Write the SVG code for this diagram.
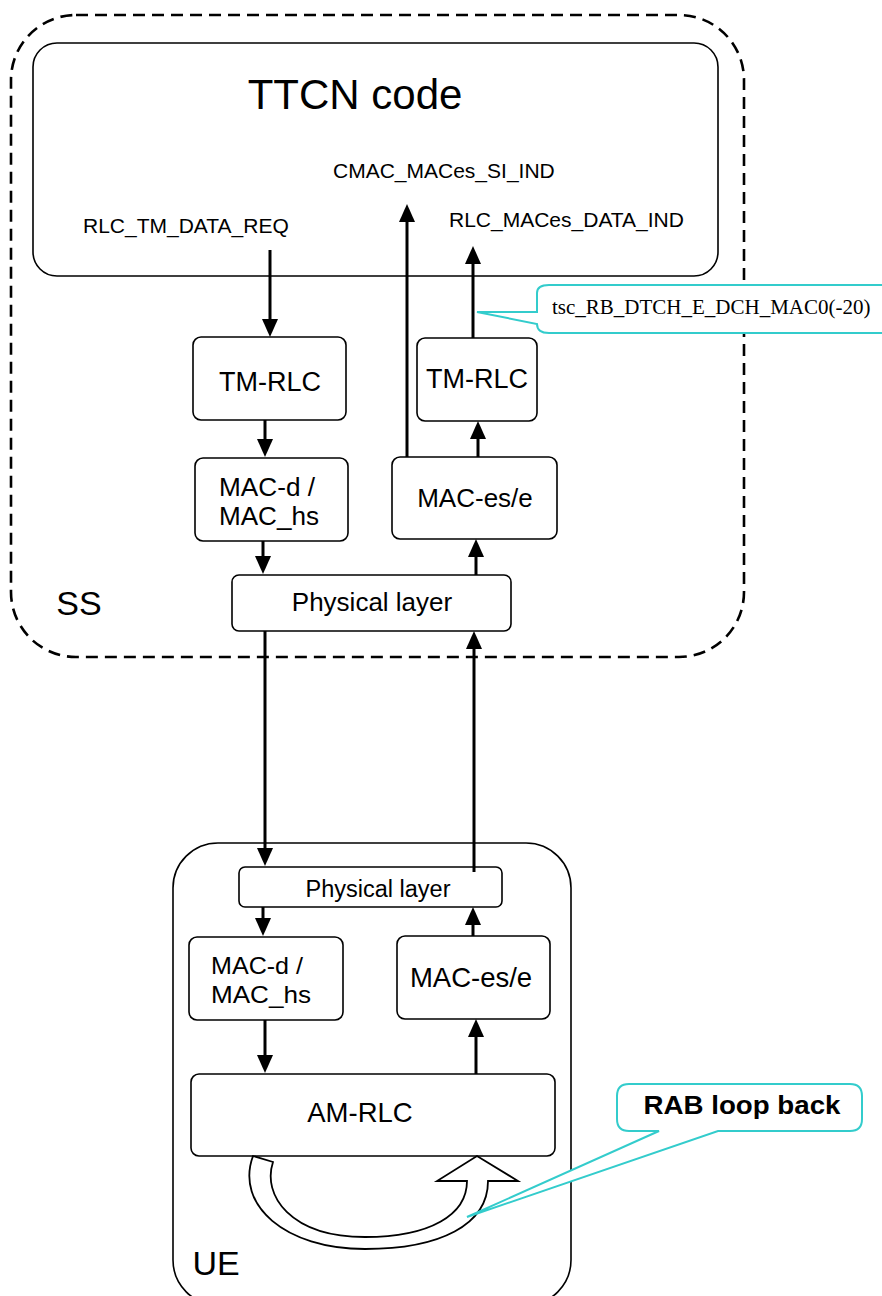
<svg xmlns="http://www.w3.org/2000/svg" width="882" height="1296" viewBox="0 0 882 1296">
<style>
.box{fill:#fff;stroke:#000;stroke-width:1.6}
.t{font-family:"Liberation Sans",Arial,sans-serif;fill:#000;text-anchor:middle}
.lbl{font-family:"Liberation Sans",Arial,sans-serif;fill:#000;font-size:21px}
.c{fill:none;stroke:#000;stroke-width:3}
.call{fill:#fff;stroke:#33CCCC;stroke-width:2}
</style>
<defs>
<marker id="ah" markerWidth="18" markerHeight="16" refX="0" refY="8" orient="auto" markerUnits="userSpaceOnUse">
<path d="M0,0 L18,8 L0,16 Z" fill="#000"/>
</marker>
</defs>
<g id="ss-frame">
<rect x="11" y="15" width="733" height="642" rx="65" fill="none" stroke="#000" stroke-width="2.6" stroke-dasharray="12,7"/>
<text class="t" x="79" y="615" font-size="34">SS</text>
</g>
<g id="ttcn">
<rect class="box" x="33" y="43" width="685" height="233" rx="24"/>
<text class="t" x="355" y="109" font-size="42">TTCN code</text>
<text class="lbl" x="333" y="178">CMAC_MACes_SI_IND</text>
<text class="lbl" x="83" y="233">RLC_TM_DATA_REQ</text>
<text class="lbl" x="449" y="227">RLC_MACes_DATA_IND</text>
</g>
<g id="ue-frame">
<rect class="box" x="173" y="843" width="398" height="462" rx="45"/>
<text class="t" x="216" y="1275" font-size="34">UE</text>
</g>
<g id="ss-tmrlc-tx">
<rect class="box" x="193" y="337" width="153" height="83" rx="8"/>
<text class="t" x="270" y="391" font-size="27">TM-RLC</text>
</g>
<g id="ss-tmrlc-rx">
<rect class="box" x="417" y="338" width="120" height="83" rx="8"/>
<text class="t" x="477" y="388" font-size="27">TM-RLC</text>
</g>
<g id="ss-macd">
<rect class="box" x="195" y="458" width="153" height="83" rx="8"/>
<text class="t" x="267" y="496" font-size="25" textLength="96" lengthAdjust="spacingAndGlyphs">MAC-d /</text>
<text class="t" x="269" y="525" font-size="25" textLength="100" lengthAdjust="spacingAndGlyphs">MAC_hs</text>
</g>
<g id="ss-maces">
<rect class="box" x="392" y="457" width="165" height="82" rx="8"/>
<text class="t" x="475" y="507" font-size="26">MAC-es/e</text>
</g>
<g id="ss-phy">
<rect class="box" x="232" y="575" width="279" height="56" rx="7"/>
<text class="t" x="372" y="611" font-size="26">Physical layer</text>
</g>
<g id="ue-phy">
<rect class="box" x="239" y="867" width="263" height="40" rx="6"/>
<text class="t" x="378" y="897" font-size="23.5">Physical layer</text>
</g>
<g id="ue-macd">
<rect class="box" x="189" y="937" width="154" height="83" rx="8"/>
<text class="t" x="257" y="974" font-size="24" textLength="92" lengthAdjust="spacingAndGlyphs">MAC-d /</text>
<text class="t" x="261" y="1003" font-size="24" textLength="100" lengthAdjust="spacingAndGlyphs">MAC_hs</text>
</g>
<g id="ue-maces">
<rect class="box" x="397" y="936" width="153" height="83" rx="8"/>
<text class="t" x="471" y="987" font-size="27.5">MAC-es/e</text>
</g>
<g id="ue-amrlc">
<rect class="box" x="191" y="1074" width="364" height="82" rx="8"/>
<text class="t" x="360" y="1122" font-size="27.5">AM-RLC</text>
</g>
<g id="connectors">
<path class="c" d="M270,250 V319" marker-end="url(#ah)"/>
<path class="c" d="M265,420 V439" marker-end="url(#ah)"/>
<path class="c" d="M263,541 V556" marker-end="url(#ah)"/>
<path class="c" d="M476,575 V557" marker-end="url(#ah)"/>
<path class="c" d="M478,457 V439" marker-end="url(#ah)"/>
<path class="c" d="M473,338 V264" marker-end="url(#ah)"/>
<path class="c" d="M407,457 V222" marker-end="url(#ah)"/>
<path class="c" d="M265,631 V848" marker-end="url(#ah)"/>
<path class="c" d="M474,872 V649" marker-end="url(#ah)"/>
<path class="c" d="M263,907 V918" marker-end="url(#ah)"/>
<path class="c" d="M473,936 V925" marker-end="url(#ah)"/>
<path class="c" d="M265,1020 V1055" marker-end="url(#ah)"/>
<path class="c" d="M476,1074 V1037" marker-end="url(#ah)"/>
</g>
<g id="loopback-arrow">
<path d="M253,1156 L273,1162 C262,1195 290,1237 365,1237 C430,1237 467,1215 467,1181 L437,1181 L477,1156 L518,1181 L488,1181 C488,1225 440,1249 365,1249 C285,1249 235,1205 253,1156 Z" fill="#fff" stroke="#000" stroke-width="1.8" stroke-linejoin="miter"/>
</g>
<g id="callout-tsc">
<path class="call" d="M477,312 L537,312 L537,293 Q537,285 549,285 L900,285 L900,333 L549,333 Q537,333 537,324 Z"/>
<text x="552" y="314" font-family="'Liberation Serif','Times New Roman',serif" font-size="21" fill="#000">tsc_RB_DTCH_E_DCH_MAC0(-20)</text>
</g>
<g id="callout-rab">
<path class="call" d="M629,1084 L850,1084 Q862,1084 862,1096 L862,1119 Q862,1131 850,1131 L718,1131 L467,1217 L659,1131 L629,1131 Q617,1131 617,1119 L617,1096 Q617,1084 629,1084 Z"/>
<text class="t" x="742" y="1114" font-size="26" font-weight="bold" textLength="197" lengthAdjust="spacingAndGlyphs">RAB loop back</text>
</g>
</svg>
